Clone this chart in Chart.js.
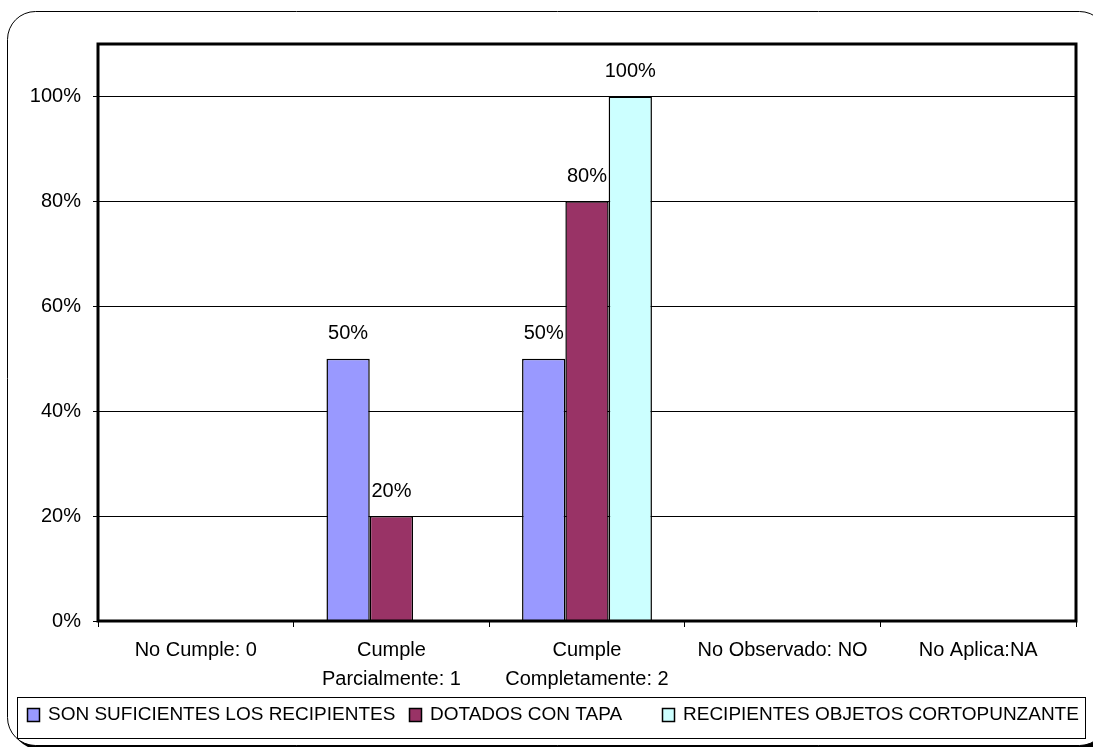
<!DOCTYPE html>
<html>
<head>
<meta charset="utf-8">
<script src="https://cdn.jsdelivr.net/npm/chart.js@4.4.0/dist/chart.umd.min.js"></script>
<style>
  html, body { margin: 0; padding: 0; background: #fff; }
  #wrap { width: 1093px; height: 747px; position: relative; }
</style>
</head>
<body>
<div id="wrap"><canvas id="chart"></canvas></div>
<script>
const categories = [
  ['No Cumple: 0'],
  ['Cumple', 'Parcialmente: 1'],
  ['Cumple', 'Completamente: 2'],
  ['No Observado: NO'],
  ['No Aplica:NA']
];
const seriesNames = ['SON SUFICIENTES LOS RECIPIENTES', 'DOTADOS CON TAPA', 'RECIPIENTES OBJETOS CORTOPUNZANTE'];
const suficientes = [0, 50, 50, 0, 0];
const conTapa = [0, 20, 80, 0, 0];
const cortopunzante = [0, 0, 100, 0, 0];
const yTicks = [0, 20, 40, 60, 80, 100];
const seriesColors = ['#9999FF', '#993366', '#CCFFFF'];

const FONT = '"Liberation Sans", Arial, sans-serif';
// left edge of each legend swatch
const legendSlots = [27, 409, 662];

// rounded outer frame behind everything
const outerFrame = {
  id: 'outerFrame',
  beforeDraw(chart) {
    const ctx = chart.ctx;
    ctx.save();
    ctx.fillStyle = '#fff';
    ctx.fillRect(0, 0, chart.width, chart.height);
    ctx.beginPath();
    ctx.roundRect(7.5, 11.5, 1100, 734, 28);
    ctx.shadowColor = '#000';
    ctx.shadowOffsetX = 4;
    ctx.shadowOffsetY = 4;
    ctx.fill();
    ctx.shadowColor = 'transparent';
    ctx.strokeStyle = '#000';
    ctx.lineWidth = 1;
    ctx.stroke();
    ctx.restore();
  }
};

// thick box round the plot area + value labels over the bars
const plotBox = {
  id: 'plotBox',
  afterDatasetsDraw(chart) {
    const { ctx, chartArea: a } = chart;
    ctx.save();
    ctx.strokeStyle = '#000';
    ctx.lineWidth = 3;
    ctx.strokeRect(a.left, a.top, a.right - a.left, a.bottom - a.top);

    ctx.font = '20px ' + FONT;
    ctx.fillStyle = '#000';
    ctx.textAlign = 'center';
    ctx.textBaseline = 'middle';
    chart.data.datasets.forEach((ds, i) => {
      chart.getDatasetMeta(i).data.forEach((bar, j) => {
        const v = ds.data[j];
        if (!v) return;
        ctx.fillText(v + '%', bar.x, bar.y - 25);
      });
    });
    ctx.restore();
  }
};

// boxed legend row along the bottom
const boxLegend = {
  id: 'boxLegend',
  afterDraw(chart) {
    const ctx = chart.ctx;
    ctx.save();
    ctx.strokeStyle = '#000';
    ctx.lineWidth = 1;
    ctx.strokeRect(17.5, 697.5, 1068, 41);
    ctx.font = '19px ' + FONT;
    ctx.textBaseline = 'middle';
    ctx.textAlign = 'left';
    chart.data.datasets.forEach((ds, i) => {
      const x = legendSlots[i];
      ctx.fillStyle = ds.backgroundColor;
      ctx.fillRect(x + 0.5, 708.5, 12, 13);
      ctx.lineWidth = 1.5;
      ctx.strokeRect(x + 0.5, 708.5, 12, 13);
      ctx.fillStyle = '#000';
      ctx.fillText(ds.label, x + 21, 715);
    });
    ctx.restore();
  }
};

new Chart(document.getElementById('chart'), {
  type: 'bar',
  data: {
    labels: categories,
    datasets: [
      { label: seriesNames[0], data: suficientes, backgroundColor: seriesColors[0] },
      { label: seriesNames[1], data: conTapa, backgroundColor: seriesColors[1] },
      { label: seriesNames[2], data: cortopunzante, backgroundColor: seriesColors[2] }
    ]
  },
  options: {
    responsive: true,
    maintainAspectRatio: false,
    animation: false,
    layout: { padding: { top: 44, right: 17, left: 0, bottom: 0 } },
    datasets: {
      bar: {
        borderColor: '#000',
        borderWidth: 1.5,
        categoryPercentage: 0.664,
        barPercentage: 1
      }
    },
    plugins: {
      legend: { display: false },
      tooltip: { enabled: false }
    },
    scales: {
      x: {
        afterFit: (s) => { s.height = 126; },
        grid: {
          offset: true,
          drawOnChartArea: false,
          tickLength: 6,
          tickColor: '#000'
        },
        border: { display: false },
        ticks: {
          color: '#000',
          padding: 9,
          maxRotation: 0,
          font: { family: FONT, size: 20, lineHeight: 1.465 }
        }
      },
      y: {
        min: 0,
        max: 110,
        afterFit: (s) => { s.width = 98; },
        afterBuildTicks: (s) => { s.ticks = yTicks.map(v => ({ value: v })); },
        grid: {
          color: '#000',
          lineWidth: 1,
          tickLength: 5,
          tickColor: '#000'
        },
        border: { display: false },
        ticks: {
          color: '#000',
          padding: 12,
          font: { family: FONT, size: 20 },
          callback: (v) => v + '%'
        }
      }
    }
  },
  plugins: [outerFrame, plotBox, boxLegend]
});
</script>
</body>
</html>
